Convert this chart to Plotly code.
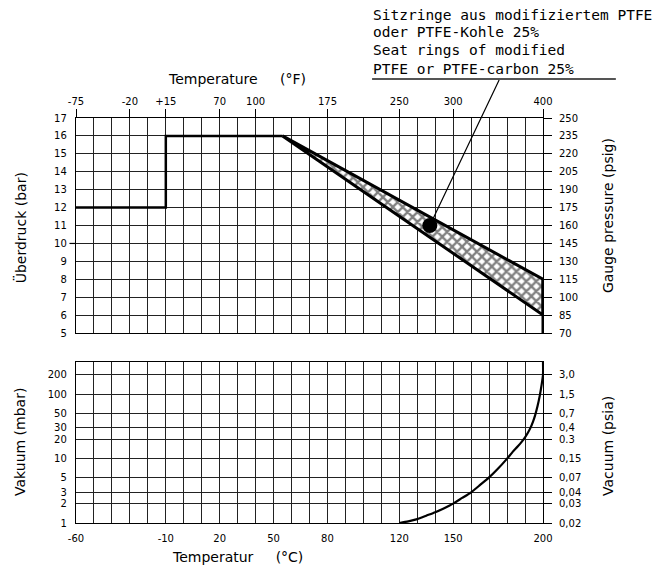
import plotly.graph_objects as go

# ---------------- data ----------------
# bottom x axis (°C)
c_tickvals = [-60, -10, 20, 50, 80, 120, 150, 200]
c_ticktext = ["-60", "-10", "20", "50", "80", "120", "150", "200"]
# top x axis (°F labels placed at °C positions)
f_tickvals = [-60, -30, -10, 20, 40, 80, 120, 150, 200]
f_ticktext = ["-75", "-20", "+15", "70", "100", "175", "250", "300", "400"]

# pressure (bar) and gauge (psig)
bar_range = [5, 17]
psig_ticks = [70, 85, 100, 115, 130, 145, 160, 175, 190, 205, 220, 235, 250]

# vacuum (mbar) and psia labels
mbar_ticks = [1, 2, 3, 5, 10, 20, 30, 50, 100, 200]
psia_text = ["0,02", "0,03", "0,04", "0,07", "0,15", "0.3", "0,4", "0,7", "1,5", "3,0"]

# pressure limit step line (°C, bar)
step_t = [-60, -10, -10, 55]
step_p = [12, 12, 16, 16]

# PTFE band (°C, bar): upper and lower limit lines
band_t = [55, 200, 200, 55]
band_p = [16, 8, 6, 16]
end_t = [200, 200]
end_p = [8, 5]

# marker point
dot_t = [137]
dot_p = [11]

# vacuum curve (°C, mbar)
vac_t = [120, 125, 130, 135, 140, 145, 150, 155, 160, 165, 170, 175, 180, 183, 186, 188,
         190, 191.5, 193, 194.5, 195.6, 197, 198.2, 199.2, 200, 200]
vac_p = [1, 1.06, 1.15, 1.3, 1.47, 1.7, 2, 2.45, 3, 3.9, 5.1, 7, 10, 12.6, 15.5, 18,
         21.4, 25, 30, 38, 47, 66, 95, 138, 200, 316]

note_lines = ["Sitzringe aus modifiziertem PTFE", "oder PTFE-Kohle 25%",
              "Seat rings of modified", "PTFE or PTFE-carbon 25%"]

# ---------------- figure ----------------
FONT = "DejaVu Sans"
MONO = "DejaVu Sans Mono"
GRID = "#222222"
fig = go.Figure()

fig.add_trace(go.Scatter(x=band_t, y=band_p, xaxis="x2", yaxis="y2", mode="lines",
                         fill="toself", fillcolor="white",
                         fillpattern=dict(shape="x", fgcolor="black", bgcolor="white",
                                          size=7, solidity=0.55),
                         line=dict(color="black", width=3), hoverinfo="skip"))
fig.add_trace(go.Scatter(x=step_t, y=step_p, xaxis="x2", yaxis="y2", mode="lines",
                         line=dict(color="black", width=2.5)))
fig.add_trace(go.Scatter(x=end_t, y=end_p, xaxis="x2", yaxis="y2", mode="lines",
                         line=dict(color="black", width=3)))
fig.add_trace(go.Scatter(x=dot_t, y=dot_p, xaxis="x2", yaxis="y2", mode="markers",
                         marker=dict(color="black", size=15)))
fig.add_trace(go.Scatter(x=vac_t, y=vac_p, xaxis="x", yaxis="y", mode="lines",
                         line=dict(color="black", width=2.2, shape="spline", smoothing=0.6)))
# invisible traces so the secondary (right) axes are drawn
fig.add_trace(go.Scatter(x=[c_tickvals[0]] * len(psig_ticks), y=psig_ticks, xaxis="x2", yaxis="y4",
                         mode="markers", marker=dict(opacity=0), hoverinfo="skip"))
fig.add_trace(go.Scatter(x=[c_tickvals[0]] * len(mbar_ticks), y=mbar_ticks, xaxis="x", yaxis="y3",
                         mode="markers", marker=dict(opacity=0), hoverinfo="skip"))

common_axis = dict(showline=True, linecolor="black", linewidth=1.3, mirror=True,
                   gridcolor=GRID, gridwidth=1.2, zeroline=False,
                   tickfont=dict(family=FONT, size=10, color="black"))

# note: the page body has an 8px default margin, so the figure is kept smaller
fig.update_layout(
    width=660, height=560, showlegend=False,
    paper_bgcolor="white", plot_bgcolor="white",
    margin=dict(l=68, r=125, t=110, b=45),
    xaxis=dict(domain=[0, 1], anchor="y", range=[-60, 200],
               tickmode="array", tickvals=c_tickvals, ticktext=c_ticktext,
               showgrid=True, ticks="", ticklabelstandoff=6,
               minor=dict(tick0=-60, dtick=10, showgrid=True, gridcolor=GRID, gridwidth=1.2, ticks=""),
               **common_axis),
    yaxis=dict(domain=[0, 0.3975], anchor="x", type="log", range=[0, 2.5],
               tickmode="array", tickvals=mbar_ticks, ticktext=[str(v) for v in mbar_ticks],
               showgrid=True, ticks="", ticklabelstandoff=6, **common_axis),
    yaxis3=dict(overlaying="y", anchor="x", side="right", type="log", range=[0, 2.5],
                tickmode="array", tickvals=mbar_ticks, ticktext=psia_text,
                showgrid=False, ticks="outside", ticklen=8, tickcolor="black", tickwidth=1.2,
                showline=False, zeroline=False, ticklabelstandoff=5,
                tickfont=dict(family=FONT, size=10, color="black")),
    xaxis2=dict(domain=[0, 1], anchor="y2", side="top", range=[-60, 200],
                tickmode="array", tickvals=f_tickvals, ticktext=f_ticktext,
                showgrid=True, ticks="outside", ticklen=8, tickcolor="black", tickwidth=1.2,
                minor=dict(tick0=-60, dtick=10, showgrid=True, gridcolor=GRID, gridwidth=1.2, ticks=""),
                **common_axis),
    yaxis2=dict(domain=[0.469, 1], anchor="x2", range=bar_range, dtick=1,
                showgrid=True, ticks="", ticklabelstandoff=6, **common_axis),
    yaxis4=dict(overlaying="y2", anchor="x2", side="right", range=[psig_ticks[0], psig_ticks[-1]],
                tickmode="array", tickvals=psig_ticks,
                showgrid=False, ticks="outside", ticklen=8, tickcolor="black", tickwidth=1.2,
                showline=False, zeroline=False, ticklabelstandoff=5,
                tickfont=dict(family=FONT, size=10, color="black")),
)

title_font = dict(family=FONT, size=14, color="black")
sp = "\u00a0" * 5
ann = [
    dict(text="Temperature" + sp + "(°F)", x=0.345, y=1.096, xanchor="center", yanchor="middle"),
    dict(text="Temperatur" + sp + "(°C)", x=0.345, y=-0.084, xanchor="center", yanchor="middle"),
    dict(text="Überdruck (bar)", x=-0.12, y=0.73, textangle=-90, xanchor="center", yanchor="middle"),
    dict(text="Vakuum (mbar)", x=-0.12, y=0.2, textangle=-90, xanchor="center", yanchor="middle"),
    dict(text="Gauge pressure (psig)", x=1.139, y=0.76, textangle=-90, xanchor="center", yanchor="middle"),
    dict(text="Vacuum (psia)", x=1.139, y=0.19, textangle=-90, xanchor="center", yanchor="middle"),
]
for a in ann:
    fig.add_annotation(xref="paper", yref="paper", showarrow=False, font=title_font, **a)

note_y = [1.254, 1.213, 1.168, 1.121]
for txt, yy in zip(note_lines, note_y):
    fig.add_annotation(text=txt, xref="paper", yref="paper", x=0.632, y=yy,
                       xanchor="left", yanchor="middle", showarrow=False,
                       font=dict(family=MONO, size=14.5, color="black"))

# underline of the note
fig.add_shape(type="line", xref="paper", yref="paper", x0=0.634, x1=1.156, y0=1.096, y1=1.096,
              line=dict(color="#555555", width=2))
# small tick at 10 bar on the left axis
fig.add_shape(type="line", xref="x2 domain", yref="y2", x0=-0.014, x1=0, y0=10, y1=10,
              line=dict(color="black", width=1.2))
# leader line from point to note
fig.add_annotation(x=dot_t[0], y=dot_p[0], xref="x2", yref="y2", text="",
                   showarrow=True, arrowhead=0, arrowwidth=1.2, arrowcolor="black",
                   ax=70, ay=-147, standoff=0, startstandoff=0)

fig.write_html("out.html")
